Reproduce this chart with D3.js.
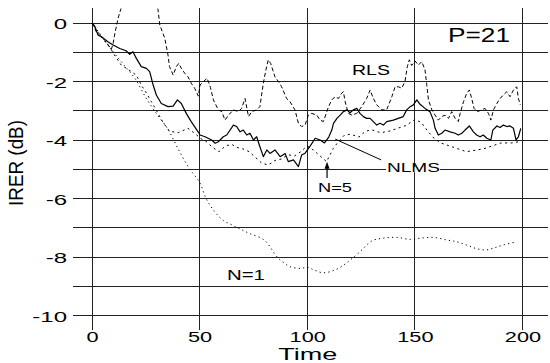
<!DOCTYPE html>
<html><head><meta charset="utf-8">
<script src="https://cdn.jsdelivr.net/npm/d3@7"></script>
<style>
body{margin:0;background:#fff}
svg{display:block}
text{font-family:"Liberation Sans",Arial,Helvetica,sans-serif;fill:#000}
</style>
</head><body>
<svg id="chart" width="550" height="363"></svg>
<script>
// ---- data ----
const xTicks = [0, 50, 100, 150, 200];
const yTicks = [0, -2, -4, -6, -8, -10];
const yGrid = [0, -1, -2, -3, -4, -5, -6, -7, -8, -9, -10];

const nlmsT = [0,1.2,2.8,5,7.4,9.8,12.9,15.8,17.5,19,20.6,22.9,25.3,26.8,28.4,29.9,32.2,35.3,37.7,39.7,41.5,43.8,46.1,49.3,50.2,52.5,55.6,57.2,58.7,61,62.6,65.7,67.2,68.8,70.3,71.9,73.4,75,76.5,78,79.6,81.2,82.7,85,87.4,89.7,91.2,93.6,95.9,97.4,99,101.4,103.7,106,108,110,111.4,112.2,113.8,115.3,116.8,118.4,119.9,121.4,123,124.5,126.1,127.6,129.2,130.7,132.3,133.8,135.4,136.9,140,142.3,144.6,146.2,147.8,149.3,150.9,152.4,154.7,157,158.6,159.4,160.9,162.5,164,166.4,168.7,170.2,171.8,173.3,175.3,177.2,178.7,180.3,181.8,183.4,185.3,186.2,188.1,189.6,191.1,192.7,194.2,195.8,197,198.1,199.2];
const nlmsV = [0,-0.1,-0.41,-0.5,-0.64,-0.75,-0.87,-0.95,-1.07,-0.98,-1.21,-1.49,-1.55,-1.66,-2.12,-2.46,-2.75,-2.86,-2.84,-2.63,-2.75,-3.09,-3.37,-3.72,-3.83,-3.89,-4.0,-4.11,-4.06,-3.89,-3.83,-3.49,-3.54,-3.72,-3.66,-3.83,-3.77,-4.0,-3.89,-4.23,-4.57,-4.34,-4.46,-4.34,-4.57,-4.46,-4.74,-4.68,-4.91,-4.51,-4.45,-4.2,-3.94,-4.0,-4.1,-3.9,-3.66,-3.43,-3.26,-3.15,-3.03,-2.97,-3.07,-2.97,-2.92,-3.09,-3.2,-3.26,-3.26,-3.37,-3.49,-3.43,-3.49,-3.37,-3.32,-3.26,-3.2,-2.97,-2.86,-2.8,-2.63,-2.78,-2.92,-3.03,-3.32,-3.6,-3.83,-3.77,-3.66,-3.72,-3.77,-3.83,-3.77,-3.66,-3.52,-3.72,-3.83,-3.89,-3.83,-3.94,-4.0,-3.66,-3.52,-3.57,-3.49,-3.54,-3.52,-3.6,-4.0,-3.89,-3.6];

const rlsT = [0,2,4,6,7.5,9,9.8,10.5,12.1,13.5,15,18,22,26,29,30.7,31.5,33.8,35.3,36,37.7,39.2,40.3,41.5,43.1,44.6,46.1,47.7,49.4,50.2,51.8,53.5,55,56.4,58.7,60.3,61.8,63.4,65.7,68,69.5,71.1,72.7,74.2,76.5,78,79.6,80.8,81.9,83,85,86.6,88.1,90.4,92,94.3,95.9,97.4,99,100.5,102.1,104.4,106,107.5,109.9,111.4,112.9,114.5,116,116.8,117.6,119.1,120.7,123,125.3,127.6,129.2,130.7,132.3,134.6,136.9,139.3,140.8,142.3,143.9,145.4,146.5,147.4,148.5,150.1,151.6,153.2,154.7,155.5,156.3,157.9,159.4,160.9,162.5,164,165.6,167.1,168.7,170.2,171,172.6,174.1,175.3,176.4,177.5,179,181.1,182.6,184.2,185.3,186.5,188.1,189.6,191.1,192.7,194.2,195.8,197.3,198.1,199];
const rlsV = [0,-0.3,-0.45,-0.6,-0.75,-0.9,-0.7,-0.41,0.16,0.5,1.0,1.8,2.3,2.0,1.1,0.44,-0.07,-0.52,-1.09,-1.49,-1.78,-1.49,-1.38,-1.55,-1.72,-1.84,-2.06,-2.23,-2.5,-2.12,-2.0,-1.89,-2.2,-2.63,-2.97,-3.03,-3.32,-3.15,-2.97,-3.03,-2.92,-2.58,-3.2,-3.03,-2.97,-2.86,-2.06,-1.6,-1.26,-1.38,-1.84,-2.0,-2.18,-2.58,-2.69,-2.97,-3.43,-3.54,-3.49,-3.15,-3.09,-3.15,-3.32,-3.37,-2.86,-2.63,-2.52,-2.58,-2.4,-2.35,-2.69,-3.09,-3.15,-3.09,-2.86,-2.58,-2.29,-2.58,-2.8,-2.97,-2.97,-2.52,-2.18,-2.18,-2.23,-2.0,-1.49,-1.26,-1.45,-1.3,-1.44,-1.32,-1.6,-2.1,-2.63,-2.97,-3.15,-3.32,-3.2,-3.15,-3.26,-3.03,-3.26,-3.37,-3.1,-2.69,-2.4,-2.29,-2.58,-2.92,-3.03,-2.97,-2.92,-3.09,-3.32,-2.97,-2.75,-2.58,-2.46,-2.35,-2.52,-2.29,-2.18,-2.58,-2.8];

const n5T = [0,4,7,8.5,10,13.6,16,20.6,22.9,25.3,27.6,30,33,36,40,44.6,47.7,50.5,53,56,59,62,65,67,70,73,76,79,82,85,88,91,94,97,100,103,106,109,112,114,117,120,124,127,130,134,138,142,146,150,153,156,159,162,166,170,174,178,182,186,190,195,199];
const n5V = [0,-0.45,-0.72,-0.85,-1.05,-1.44,-1.55,-1.78,-2.12,-2.4,-2.69,-3.0,-3.4,-3.7,-3.75,-3.6,-3.77,-3.95,-4.05,-4.25,-4.4,-4.2,-4.15,-4.25,-4.3,-4.4,-4.6,-4.8,-4.85,-4.7,-4.65,-4.5,-4.55,-4.4,-4.2,-4.35,-4.55,-4.74,-4.3,-4.1,-3.85,-3.8,-3.9,-3.7,-3.65,-3.75,-3.7,-3.6,-3.5,-3.3,-3.4,-3.7,-3.95,-4.1,-4.2,-4.3,-4.4,-4.35,-4.3,-4.2,-4.1,-4.1,-4.05];

const n1T = [0,5,10,15,20,25,30,35,40,45,50,53,57,61,65,69,73,80,86,89,92,97,100,103,107.5,113,117,120,124.5,130,135,141.6,148,152,158.6,165,169.5,174,178,182.6,186.5,191,197.3];
const n1V = [0,-0.5,-1.0,-1.45,-1.9,-2.55,-3.1,-3.6,-4.3,-4.95,-5.45,-6.0,-6.45,-6.75,-6.9,-7.05,-7.19,-7.42,-8.0,-8.19,-8.33,-8.39,-8.35,-8.44,-8.54,-8.44,-8.27,-8.1,-7.82,-7.45,-7.36,-7.33,-7.4,-7.36,-7.33,-7.42,-7.48,-7.59,-7.7,-7.76,-7.7,-7.59,-7.48];

// ---- chart ----
const svg = d3.select("#chart");
const x = d3.scaleLinear().domain([0, 200]).range([92, 522.5]);
const y = d3.scaleLinear().domain([0, -10]).range([23, 315.5]);
const xMin = -8.8, xMax = 212, yTop = 0.5, yBot = -10.5;
const gridCol = "#222";

// grid
svg.append("g").selectAll("line").data(yGrid).join("line")
  .attr("x1", x(xMin)).attr("x2", x(xMax))
  .attr("y1", d => y(d)).attr("y2", d => y(d))
  .attr("stroke", gridCol).attr("stroke-width", 1).attr("shape-rendering", "crispEdges");
svg.append("g").selectAll("line").data(xTicks).join("line")
  .attr("x1", d => x(d)).attr("x2", d => x(d))
  .attr("y1", y(yTop)).attr("y2", y(yBot))
  .attr("stroke", gridCol).attr("stroke-width", 1).attr("shape-rendering", "crispEdges");

// axes (labels only)
const yAxis = svg.append("g").attr("transform", `translate(${x(0)},0)`)
  .call(d3.axisLeft(y).tickValues(yTicks).tickSize(0).tickPadding(0).tickFormat(d => String(d)));
yAxis.select(".domain").remove();
yAxis.selectAll("text").attr("x", null).attr("dy", "0.38em")
  .attr("transform", "translate(-25,0) scale(1.6,1)")
  .style("font-size", "15px").style("font-family", '"Liberation Sans",Arial,sans-serif');

const xAxis = svg.append("g").attr("transform", `translate(0,${y(yBot)})`)
  .call(d3.axisBottom(x).tickValues(xTicks).tickSize(0).tickPadding(1).tickFormat(d => String(d)));
xAxis.select(".domain").remove();
xAxis.selectAll("text").attr("transform", "scale(1.45,1)")
  .style("font-size", "15px").style("font-family", '"Liberation Sans",Arial,sans-serif');

// clip
svg.append("clipPath").attr("id", "clip").append("rect")
  .attr("x", x(xMin)).attr("y", y(yTop))
  .attr("width", x(xMax) - x(xMin)).attr("height", y(yBot) - y(yTop));

const plot = svg.append("g").attr("clip-path", "url(#clip)");
function series(T, V, dash, width, curve) {
  const pts = T.map((t, i) => [t, V[i]]);
  plot.append("path").datum(pts)
    .attr("fill", "none").attr("stroke", "#000").attr("stroke-width", width)
    .attr("stroke-dasharray", dash)
    .attr("stroke-linejoin", "round")
    .attr("d", d3.line().x(d => x(d[0])).y(d => y(d[1])).curve(curve));
}
series(n1T, n1V, "1.2,3.2", 1, d3.curveCatmullRom);
series(n5T, n5V, "2,3.5", 1, d3.curveLinear);
series(rlsT, rlsV, "4,2.5", 1, d3.curveLinear);
series(nlmsT, nlmsV, null, 1.2, d3.curveLinear);

// annotations
function label(txt, t, v, size, len, anchor) {
  return svg.append("text").attr("x", x(t)).attr("y", y(v))
    .attr("text-anchor", anchor || "start")
    .attr("textLength", len).attr("lengthAdjust", "spacingAndGlyphs")
    .style("font-size", size + "px").text(txt);
}
label("P=21", 165.4, -0.65, 20, 62);
label("RLS", 120.8, -1.78, 14, 38);
// white gap behind NLMS where it sits on the grid line
svg.append("rect").attr("x", x(136.6)).attr("y", y(-4.93)).attr("width", 54).attr("height", 5).attr("fill", "#fff");
label("NLMS", 137, -5.11, 13.5, 53);
label("N=5", 105, -5.78, 13.5, 34);
label("N=1", 62.7, -8.79, 14, 38);

// NLMS leader line
svg.append("line")
  .attr("x1", x(113)).attr("y1", y(-3.97))
  .attr("x2", x(134.3)).attr("y2", y(-4.68))
  .attr("stroke", "#000").attr("stroke-width", 1);

// N=5 arrow
const ax = x(109.2);
svg.append("line").attr("x1", ax).attr("x2", ax)
  .attr("y1", y(-5.3)).attr("y2", y(-4.95))
  .attr("stroke", "#000").attr("stroke-width", 1.2);
svg.append("path")
  .attr("d", `M${ax},${y(-4.74)} L${ax - 2.5},${y(-4.98)} L${ax + 2.5},${y(-4.98)} Z`)
  .attr("fill", "#000");

// axis titles
svg.append("text").attr("x", x(100.2)).attr("y", 359.5)
  .attr("text-anchor", "middle").attr("textLength", 59).attr("lengthAdjust", "spacingAndGlyphs")
  .style("font-size", "16px").text("Time");
svg.append("text").attr("transform", "translate(23,163) rotate(-90)")
  .attr("text-anchor", "middle").attr("textLength", 86).attr("lengthAdjust", "spacingAndGlyphs")
  .style("font-size", "20px").text("IRER (dB)");
</script>
</body></html>
